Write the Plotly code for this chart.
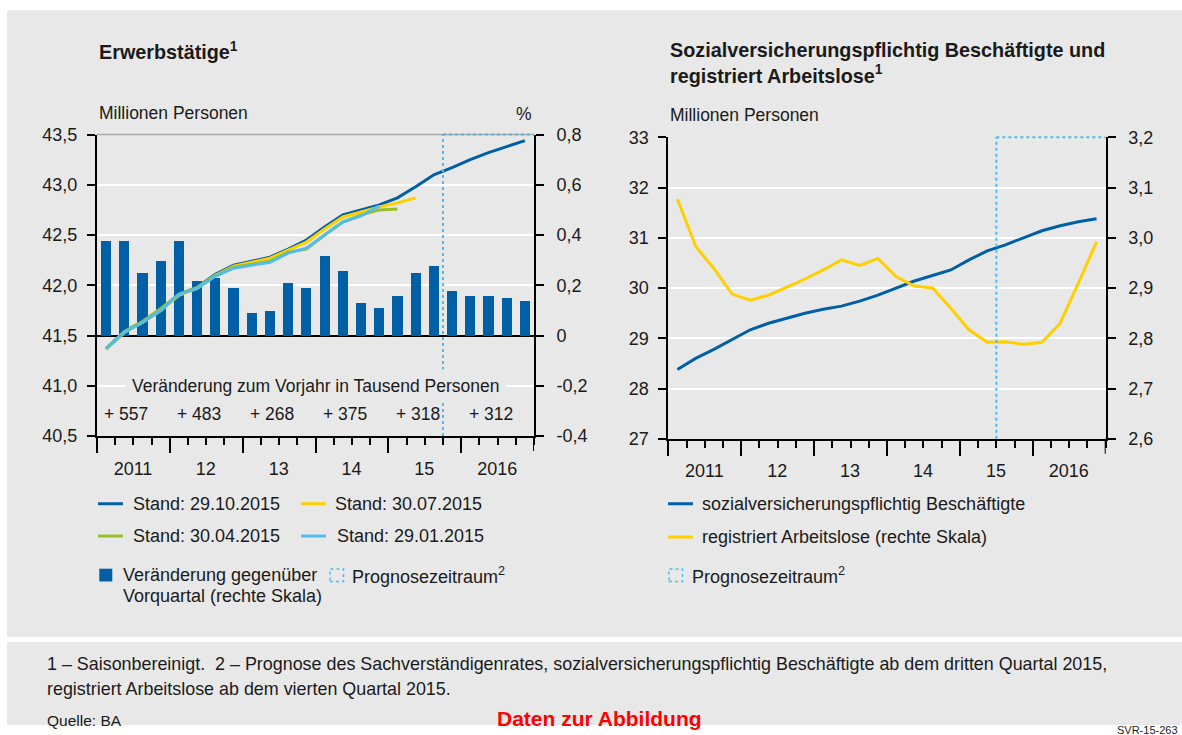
import plotly.graph_objects as go

W, H = 1182, 735

# ---- data -------------------------------------------------------------
quarters = [f"{y}Q{q}" for y in range(2011, 2017) for q in range(1, 5)]
year_labels = ["2011", "12", "13", "14", "15", "2016"]

# Erwerbstätige, Mio. Personen, by release date of the estimate
stand_2015_10_29 = [41.37, 41.54, 41.64, 41.76, 41.91, 41.98, 42.11, 42.20,
                    42.24, 42.28, 42.36, 42.45, 42.58, 42.70, 42.75, 42.80,
                    42.87, 42.98, 43.10, 43.17, 43.25, 43.32, 43.38, 43.44]
stand_2015_07_30 = [41.36, 41.53, 41.63, 41.75, 41.90, 41.97, 42.10, 42.19,
                    42.23, 42.27, 42.35, 42.43, 42.56, 42.68, 42.73, 42.78,
                    42.82, 42.87]
stand_2015_04_30 = [41.37, 41.54, 41.64, 41.77, 41.91, 41.98, 42.10, 42.18,
                    42.21, 42.24, 42.33, 42.36, 42.50, 42.63, 42.70, 42.75,
                    42.76]
stand_2015_01_29 = [41.37, 41.53, 41.63, 41.75, 41.91, 41.97, 42.09, 42.17,
                    42.20, 42.23, 42.32, 42.37, 42.50, 42.63, 42.69, 42.79]
# Veränderung gegenüber Vorquartal, %
change_prev_quarter = [0.38, 0.38, 0.25, 0.30, 0.38, 0.22, 0.23, 0.19,
                       0.09, 0.10, 0.21, 0.19, 0.32, 0.26, 0.13, 0.11,
                       0.16, 0.25, 0.28, 0.18, 0.16, 0.16, 0.15, 0.14]
# Veränderung zum Vorjahr, Tausend Personen
change_prev_year = [557, 483, 268, 375, 318, 312]

# Sozialversicherungspflichtig Beschäftigte, Mio.
svp_employed = [28.38, 28.60, 28.78, 28.97, 29.17, 29.30, 29.40, 29.50,
                29.58, 29.64, 29.74, 29.86, 30.00, 30.14, 30.25, 30.36,
                30.56, 30.74, 30.86, 31.00, 31.14, 31.24, 31.32, 31.38]
# Registriert Arbeitslose, Mio. (rechte Skala)
unemployed = [3.077, 2.983, 2.939, 2.888, 2.876, 2.886, 2.902, 2.918,
              2.936, 2.956, 2.945, 2.959, 2.923, 2.904, 2.900, 2.860,
              2.817, 2.792, 2.793, 2.788, 2.792, 2.830, 2.910, 2.992]

left_mio_ticks = [40.5, 41.0, 41.5, 42.0, 42.5, 43.0, 43.5]
left_mio_text = ["40,5", "41,0", "41,5", "42,0", "42,5", "43,0", "43,5"]
left_pct_ticks = [-0.4, -0.2, 0.0, 0.2, 0.4, 0.6, 0.8]
left_pct_text = ["-0,4", "-0,2", "0", "0,2", "0,4", "0,6", "0,8"]
right_mio_ticks = [27, 28, 29, 30, 31, 32, 33]
right_mio_text = ["27", "28", "29", "30", "31", "32", "33"]
right_al_ticks = [2.6, 2.7, 2.8, 2.9, 3.0, 3.1, 3.2]
right_al_text = ["2,6", "2,7", "2,8", "2,9", "3,0", "3,1", "3,2"]

forecast_start_left = 19   # quarter index: 2015Q4
forecast_start_right = 18  # quarter index: 2015Q3

# ---- style ------------------------------------------------------------
PANEL = "#e8e8e8"
DARK = "#005fa5"
YELLOW = "#ffcf00"
GREEN = "#99bf26"
LIGHT = "#52bde9"
DOT = "#48bdee"
FONT = "Liberation Sans, Arial, sans-serif"
TXT = "#1a1a1a"

xpos = [i + 0.5 for i in range(len(quarters))]
n_q = len(quarters)
year_starts = list(range(0, n_q, 4))

# page placement of the figure (vertical offset and scale of the page)
Y_OFF, Y_SCALE = 8.7, 0.9733


def px(x):
    return x / W


def py(y):
    return 1 - (y - Y_OFF) / (Y_SCALE * H)


fig = go.Figure()

# Left panel: bars on the % axis (base), lines on the millions axis (overlay)
fig.add_bar(x=xpos, y=change_prev_quarter, xaxis="x", yaxis="y",
            width=0.56, marker=dict(color=DARK, line=dict(width=0)),
            name="Veränderung gegenüber Vorquartal (rechte Skala)")
for series, color, name in [
    (stand_2015_10_29, DARK, "Stand: 29.10.2015"),
    (stand_2015_07_30, YELLOW, "Stand: 30.07.2015"),
    (stand_2015_04_30, GREEN, "Stand: 30.04.2015"),
    (stand_2015_01_29, LIGHT, "Stand: 29.01.2015"),
]:
    fig.add_scatter(x=xpos[:len(series)], y=series, xaxis="x", yaxis="y2",
                    mode="lines", line=dict(color=color, width=3), name=name)

# Right panel
fig.add_scatter(x=xpos, y=svp_employed, xaxis="x2", yaxis="y3", mode="lines",
                line=dict(color=DARK, width=3),
                name="sozialversicherungspflichtig Beschäftigte")
fig.add_scatter(x=xpos, y=unemployed, xaxis="x2", yaxis="y4", mode="lines",
                line=dict(color=YELLOW, width=3),
                name="registriert Arbeitslose (rechte Skala)")

tickfont = dict(family=FONT, size=18, color=TXT)


def xaxis_style(domain, anchor, shift):
    return dict(
        domain=domain, anchor=anchor, range=[0, n_q],
        tickmode="array", tickvals=year_starts, ticktext=year_labels,
        ticks="outside", ticklen=15, tickwidth=2, tickcolor="black",
        ticklabelshift=shift, tickfont=tickfont,
        minor=dict(tickmode="array", tickvals=list(range(n_q + 1)),
                   ticks="outside", ticklen=7, tickwidth=2,
                   tickcolor="black", showgrid=False),
        showline=True, linecolor="black", linewidth=2,
        showgrid=False, zeroline=False, fixedrange=True,
    )


def yaxis_style(rng, vals, text, side, standoff, **extra):
    d = dict(
        range=rng, tickmode="array", tickvals=vals, ticktext=text,
        side=side, ticks="outside", ticklen=8, tickwidth=2,
        tickcolor="black", tickfont=tickfont, ticklabelstandoff=standoff,
        showline=True, linecolor="black", linewidth=2,
        showgrid=False, zeroline=False, fixedrange=True,
    )
    d.update(extra)
    return d


L_X = [px(97), px(534)]
L_Y = [py(435), py(133.3)]
R_X = [px(668.3), px(1105.7)]
R_Y = [py(437.8), py(136)]
q_px_left = (534 - 97) / n_q
q_px_right = (1105.7 - 668.3) / n_q

fig.update_layout(
    width=W, height=H,
    margin=dict(l=0, r=0, t=0, b=0),
    paper_bgcolor="white", plot_bgcolor="rgba(0,0,0,0)",
    showlegend=False, bargap=0,
    font=dict(family=FONT, size=17, color=TXT),
    xaxis=xaxis_style(L_X, "y", round(2 * q_px_left)),
    yaxis=yaxis_style([-0.4, 0.8], left_pct_ticks, left_pct_text, "right", 9,
                      domain=L_Y, anchor="x", showgrid=True,
                      gridcolor="white", gridwidth=2, zeroline=True,
                      zerolinecolor="black", zerolinewidth=2),
    yaxis2=yaxis_style([40.5, 43.5], left_mio_ticks, left_mio_text, "left", 6,
                       overlaying="y", anchor="x"),
    xaxis2=xaxis_style(R_X, "y3", round(2 * q_px_right)),
    yaxis3=yaxis_style([27, 33], right_mio_ticks, right_mio_text, "left", 6,
                       domain=R_Y, anchor="x2", showgrid=True,
                       gridcolor="white", gridwidth=2),
    yaxis4=yaxis_style([2.6, 3.2], right_al_ticks, right_al_text, "right", 9,
                       overlaying="y3", anchor="x2"),
)

shapes = [
    # grey panels behind chart area and footnotes
    dict(type="rect", xref="paper", yref="paper", layer="below",
         x0=px(7), x1=1, y0=py(636), y1=py(9),
         fillcolor=PANEL, line=dict(width=0)),
    dict(type="rect", xref="paper", yref="paper", layer="below",
         x0=px(7), x1=1, y0=0, y1=py(641),
         fillcolor=PANEL, line=dict(width=0)),
    # top border of the left plot
    dict(type="line", xref="x", yref="y domain", x0=0, x1=n_q, y0=1, y1=1,
         line=dict(color="#a8a8a8", width=1.5)),
    # long closing tick at the end of 2016 on both time axes
    dict(type="line", xref="x", yref="y domain", x0=n_q, x1=n_q,
         ysizemode="pixel", yanchor=0, y0=0, y1=-15,
         line=dict(color="black", width=2)),
    dict(type="line", xref="x2", yref="y3 domain", x0=n_q, x1=n_q,
         ysizemode="pixel", yanchor=0, y0=0, y1=-15,
         line=dict(color="black", width=2)),
    # forecast period frames
    dict(type="line", xref="x", yref="y domain",
         x0=forecast_start_left, x1=forecast_start_left, y0=0, y1=1,
         line=dict(color=DOT, width=2, dash="dot")),
    dict(type="line", xref="x", yref="y domain",
         x0=forecast_start_left, x1=n_q, y0=1, y1=1,
         line=dict(color=DOT, width=2, dash="dot")),
    dict(type="line", xref="x2", yref="y3 domain",
         x0=forecast_start_right, x1=forecast_start_right, y0=0, y1=1,
         line=dict(color=DOT, width=2, dash="dot")),
    dict(type="line", xref="x2", yref="y3 domain",
         x0=forecast_start_right, x1=n_q, y0=1, y1=1,
         line=dict(color=DOT, width=2, dash="dot")),
]

annotations = []


def text(x, y, s, size=18, anchor="left", color=TXT, **kw):
    annotations.append(dict(
        xref="paper", yref="paper", x=px(x), y=py(y), text=s,
        showarrow=False, xanchor=anchor, yanchor="middle", align="left",
        font=dict(family=FONT, size=size, color=color), **kw))


# titles and axis captions
text(97, 49, "<b>Erwerbstätige<sup>1</sup></b>", size=19.8)
text(668, 61.5, "<b>Sozialversicherungspflichtig Beschäftigte und<br>"
     "registriert Arbeitslose<sup>1</sup></b>", size=19.8)
text(97, 112, "Millionen Personen", size=17.5)
text(534, 113, "%", anchor="right", size=17.5)
text(668, 114, "Millionen Personen", size=17.5)

# year-over-year changes inside the left plot
annotations.append(dict(
    xref="x", yref="y2", x=n_q / 2, y=41.0,
    text="Veränderung zum Vorjahr in Tausend Personen", showarrow=False,
    xanchor="center", yanchor="middle", bgcolor=PANEL, borderpad=6,
    font=dict(family=FONT, size=17.5, color=TXT)))
for k, v in enumerate(change_prev_year):
    annotations.append(dict(
        xref="x", yref="y2", x=4 * k + 0.3, y=40.72, text=f"+ {v}",
        showarrow=False, xanchor="left", yanchor="middle",
        font=dict(family=FONT, size=17.5, color=TXT)))


def key_line(x0, x1, y, color):
    shapes.append(dict(type="line", xref="paper", yref="paper",
                       x0=px(x0), x1=px(x1), y0=py(y), y1=py(y),
                       line=dict(color=color, width=3)))


def key_box(x0, x1, y0, y1, fill=None, dotted=False):
    shapes.append(dict(type="rect", xref="paper", yref="paper",
                       x0=px(x0), x1=px(x1), y0=py(y1), y1=py(y0),
                       fillcolor=fill if fill else "rgba(0,0,0,0)",
                       line=dict(color=DOT, width=1.5, dash="dot")
                       if dotted else dict(width=0)))


# left legend
key_line(98, 123, 502.7, DARK)
text(130.5, 502.7, "Stand: 29.10.2015")
key_line(301, 326, 502.7, YELLOW)
text(332.5, 502.7, "Stand: 30.07.2015")
key_line(98, 123, 535, GREEN)
text(130.5, 535, "Stand: 30.04.2015")
key_line(301, 326, 535, LIGHT)
text(335, 535, "Stand: 29.01.2015")
key_box(99.3, 112.3, 567.7, 580.5, fill=DARK)
text(120.5, 574.3, "Veränderung gegenüber")
text(120.5, 595, "Vorquartal (rechte Skala)")
key_box(330, 343.5, 568, 580.5, dotted=True)
text(350, 574.3, "Prognosezeitraum<sup>2</sup>")

# right legend
key_line(668, 693, 502.7, DARK)
text(700, 502.7, "sozialversicherungspflichtig Beschäftigte")
key_line(668, 693, 536, YELLOW)
text(700, 536, "registriert Arbeitslose (rechte Skala)")
key_box(669, 682.5, 568, 580.5, dotted=True)
text(690, 574.3, "Prognosezeitraum<sup>2</sup>")

# footnotes
text(45, 663, "1 – Saisonbereinigt.  2 – Prognose des Sachverständigenrates, "
     "sozialversicherungspflichtig Beschäftigte ab dem dritten Quartal 2015,",
     size=17.9)
text(45, 688, "registriert Arbeitslose ab dem vierten Quartal 2015.", size=17.9)
text(45, 720, "Quelle: BA", size=15.5)
text(599, 718, "<b>Daten zur Abbildung</b>", size=21, anchor="center",
     color="#ff0000")
text(1180, 729, "SVR-15-263", size=11, anchor="right")

fig.update_layout(shapes=shapes, annotations=annotations)
fig.write_html("out.html")
